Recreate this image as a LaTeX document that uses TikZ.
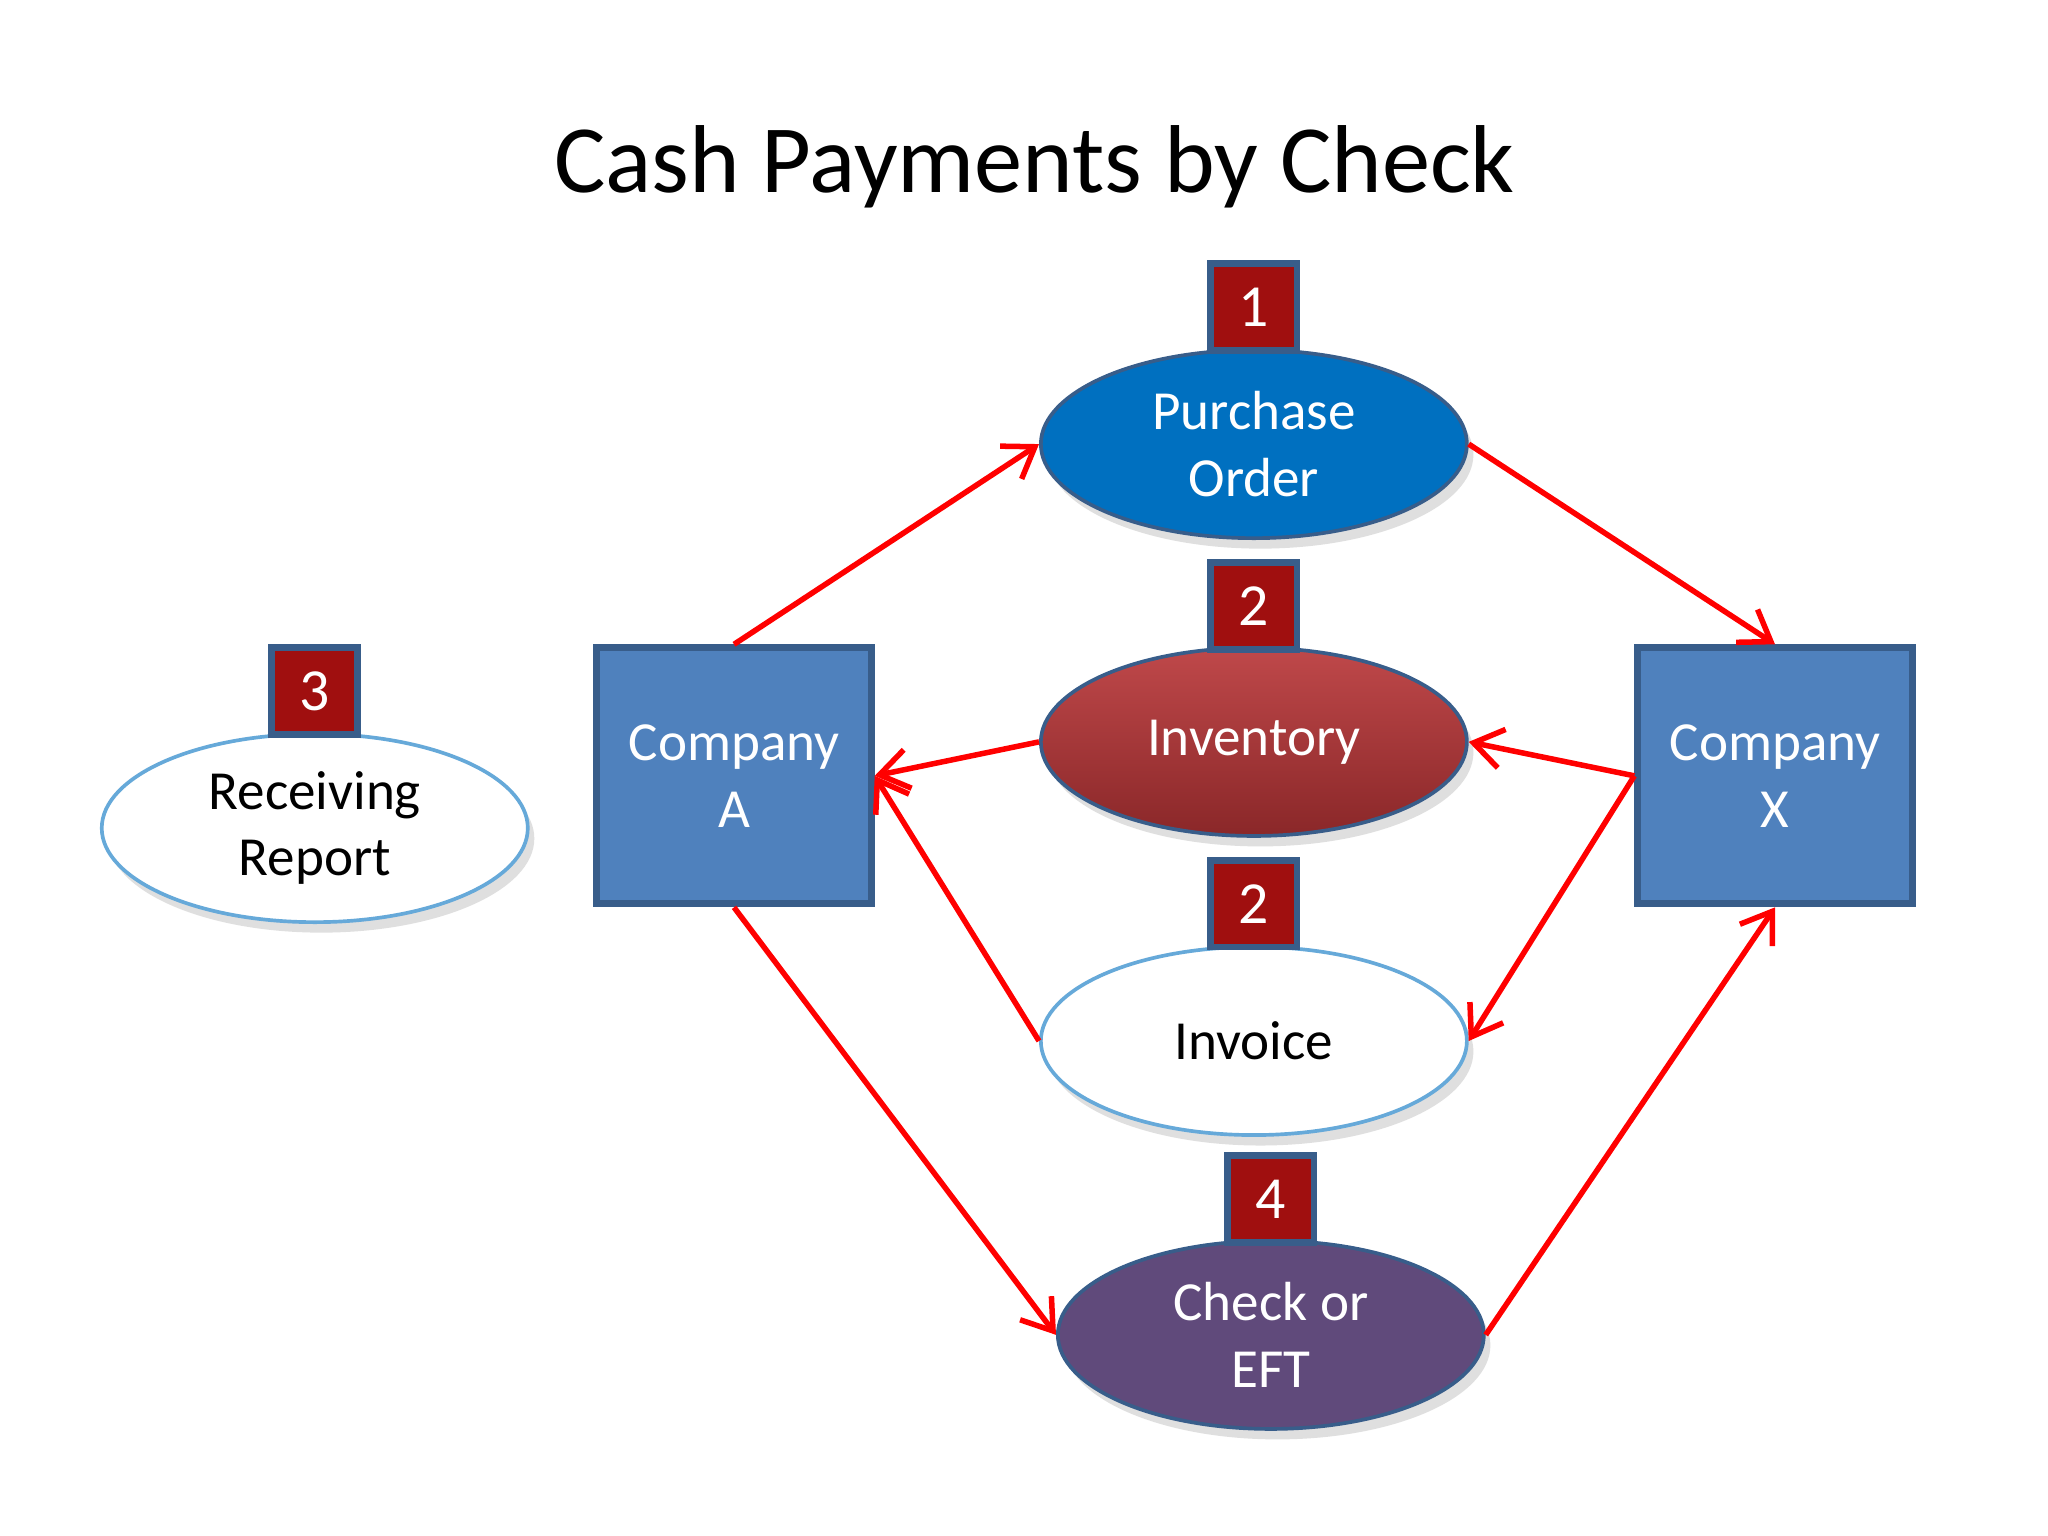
\documentclass[tikz,border=0pt]{standalone}
\usepackage{fontspec}
\setmainfont{Carlito}
\usetikzlibrary{shapes.geometric,arrows.meta,shadows}
\definecolor{pob}{HTML}{0070C0}
\definecolor{invr}{HTML}{B83436}
\definecolor{chk}{HTML}{604A7B}
\definecolor{comp}{HTML}{4F81BD}
\definecolor{compb}{HTML}{385D8A}
\definecolor{tag}{HTML}{A00F0F}
\begin{document}
\begin{tikzpicture}[x=0.01cm,y=-0.01cm,
 ell/.style={ellipse,minimum width=326\pgflinewidth,minimum width=3.26cm,minimum height=1.44cm,inner sep=0pt,align=center,font=\fontsize{12}{14.5}\selectfont,draw=compb,line width=0.8pt,drop shadow={shadow xshift=0.5mm,shadow yshift=-0.8mm,opacity=0.25}},
 comp/.style={rectangle,fill=comp,draw=compb,line width=1.5pt,minimum width=2.1cm,minimum height=1.96cm,align=center,text=white,font=\fontsize{12}{14.5}\selectfont},
 tag/.style={rectangle,fill=tag,draw=compb,line width=1.5pt,minimum width=0.66cm,minimum height=0.66cm,inner sep=0pt,text=white,font=\fontsize{13}{15}\selectfont},
 arr/.style={draw=red,line width=1.2pt,-{Straight Barb[length=2.2mm,width=3mm]}}]
\useasboundingbox (0,0) rectangle (1568,1176);
\fill[white] (0,0) rectangle (1568,1176);
\node[font=\fontsize{21}{25}\selectfont] (title) at (792,128) {Cash Payments by Check};
\node[ell,fill=pob,text=white] (po) at (960,340) {Purchase\\Order};
\node[ell,top color=invr!90!white,bottom color=invr!75!black,text=white] (inv) at (960,568) {Inventory};
\node[ell,fill=white,draw=pob!60] (ivc) at (960,797) {Invoice};
\node[ell,fill=chk,text=white] (chk) at (973,1022) {Check or\\EFT};
\node[ell,fill=white,draw=pob!60] (rr) at (241,634) {Receiving\\Report};
\node[comp] (A) at (562,594) {Company\\A};
\node[comp] (X) at (1359,594) {Company\\X};
\node[tag] (t1) at (960,235) {1};
\node[tag] (t2) at (960,464) {2};
\node[tag] (t2b) at (960,692) {2};
\node[tag] (t4) at (973,918) {4};
\node[tag] (t3) at (241,529) {3};
\draw[arr] (A.north) -- (po.west);
\draw[arr] (po.east) -- (X.north);
\draw[arr] (inv.west) -- (A.east);
\draw[arr] (X.west) -- (inv.east);
\draw[arr] (ivc.west) -- (A.east);
\draw[arr] (X.west) -- (ivc.east);
\draw[arr] (A.south) -- (chk.west);
\draw[arr] (chk.east) -- (X.south);
\end{tikzpicture}
\end{document}
